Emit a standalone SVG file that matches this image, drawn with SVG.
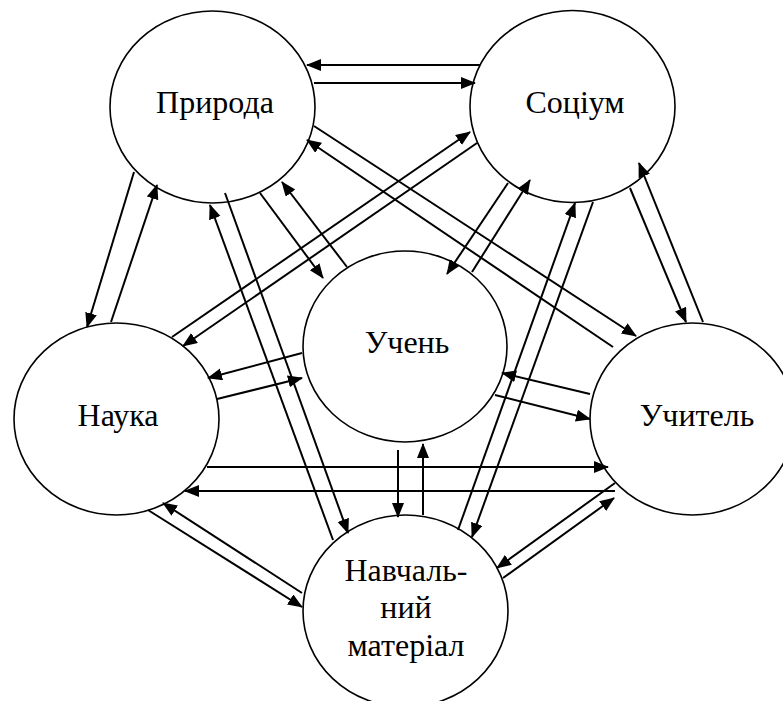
<svg xmlns="http://www.w3.org/2000/svg" width="783" height="701" viewBox="0 0 783 701">
<style>
.node{fill:#fff;stroke:#000;stroke-width:1.6}
.lbl{font-family:'Liberation Serif','Times New Roman',serif;font-size:32px;fill:#000;text-anchor:middle}
.c line{stroke:#000;stroke-width:2;fill:none}
.a{marker-end:url(#arr)}
</style>
<defs>
<marker id="arr" markerUnits="userSpaceOnUse" markerWidth="17" markerHeight="13" refX="14" refY="6" orient="auto">
<path d="M0,0 L15,6 L0,12 Z" fill="#000"/>
</marker>
</defs>
<rect width="783" height="701" fill="#fff"/>
<g id="n-pryroda"><ellipse class="node" cx="212.5" cy="107" rx="102.5" ry="96"/><text class="lbl" x="215" y="113">Природа</text></g>
<g id="n-sotsium"><ellipse class="node" cx="572.5" cy="106.5" rx="102.5" ry="96"/><text class="lbl" x="575" y="113">Соціум</text></g>
<g id="n-nauka"><ellipse class="node" cx="116.5" cy="419" rx="102.5" ry="96"/><text class="lbl" x="118" y="426">Наука</text></g>
<g id="n-uchen"><ellipse class="node" cx="405" cy="346.5" rx="102" ry="95.5"/><text class="lbl" x="407" y="353">Учень</text></g>
<g id="n-uchytel"><ellipse class="node" cx="692.5" cy="419" rx="102.5" ry="96"/><text class="lbl" x="697" y="426">Учитель</text></g>
<g id="n-material"><ellipse class="node" cx="405.5" cy="611" rx="102.5" ry="96"/><text class="lbl" x="406" y="581">Навчаль-</text><text class="lbl" x="406" y="618">ний</text><text class="lbl" x="406" y="656">матеріал</text></g>
<g class="c" id="connectors">
<line class="a" x1="480" y1="65" x2="307" y2="65"/>
<line class="a" x1="314" y1="83" x2="475" y2="83"/>
<line class="a" x1="134" y1="172" x2="87" y2="327"/>
<line class="a" x1="111" y1="322" x2="157" y2="185"/>
<line class="a" x1="260" y1="193" x2="323" y2="278"/>
<line class="a" x1="347" y1="267" x2="282" y2="182"/>
<line class="a" x1="314" y1="126" x2="636" y2="336"/>
<line class="a" x1="613" y1="347" x2="307" y2="140"/>
<line class="a" x1="225" y1="193" x2="348" y2="533"/>
<line class="a" x1="333" y1="540" x2="210" y2="205"/>
<line class="a" x1="172" y1="337" x2="470" y2="132"/>
<line class="a" x1="477" y1="143" x2="183" y2="346"/>
<line class="a" x1="508" y1="183" x2="447" y2="274"/>
<line class="a" x1="472" y1="272" x2="530" y2="180"/>
<line class="a" x1="630" y1="188" x2="686" y2="322"/>
<line class="a" x1="703" y1="322" x2="639" y2="163"/>
<line class="a" x1="458" y1="530" x2="575" y2="203"/>
<line class="a" x1="593" y1="202" x2="472" y2="537"/>
<line class="a" x1="302" y1="353" x2="208" y2="378"/>
<line class="a" x1="217" y1="399" x2="302" y2="378"/>
<line class="a" x1="207" y1="467" x2="608" y2="467"/>
<line class="a" x1="615" y1="491" x2="185" y2="491"/>
<line class="a" x1="148" y1="510" x2="302" y2="607"/>
<line class="a" x1="302" y1="593" x2="163" y2="503"/>
<line class="a" x1="590" y1="394" x2="502" y2="373"/>
<line class="a" x1="495" y1="395" x2="590" y2="419"/>
<line class="a" x1="398" y1="450" x2="398" y2="517"/>
<line class="a" x1="423" y1="515" x2="423" y2="444"/>
<line class="a" x1="615" y1="483" x2="497" y2="568"/>
<line class="a" x1="503" y1="578" x2="614" y2="498"/>
</g>
</svg>
